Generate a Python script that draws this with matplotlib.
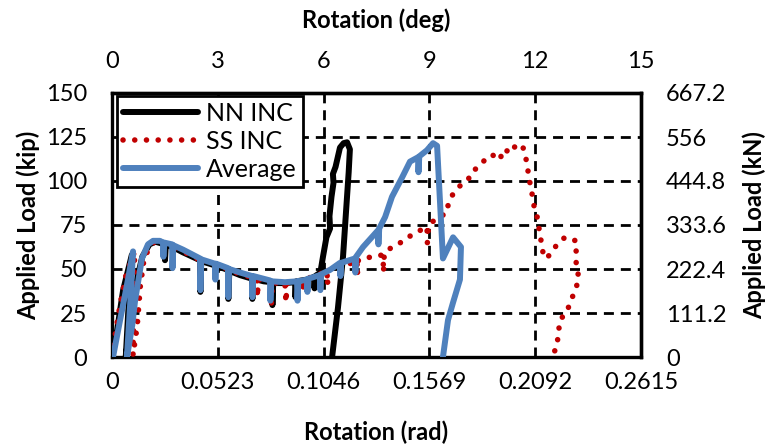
import numpy as np
import matplotlib
matplotlib.use("Agg")
import matplotlib.pyplot as plt

plt.rcParams['font.family'] = ['Lato', 'DejaVu Sans']

# rotation (rad) / applied load (kip) for the two connections and their average
NN_ROT = [0.0000, 0.0025, 0.0055, 0.0098, 0.0080, 0.0068, 0.0095, 0.0125, 0.0150, 0.0185,
          0.0215, 0.0260, 0.0262, 0.0266, 0.0300, 0.0350, 0.0435, 0.0437, 0.0441, 0.0510,
          0.0573, 0.0575, 0.0580, 0.0633, 0.0692, 0.0694, 0.0698, 0.0750, 0.0791, 0.0793,
          0.0797, 0.0855, 0.0905, 0.0907, 0.0911, 0.0964, 0.0999, 0.1001, 0.1005, 0.1030,
          0.1043, 0.1060, 0.1078, 0.1075, 0.1085, 0.1095, 0.1092, 0.1105, 0.1127, 0.1145,
          0.1162, 0.1176, 0.1170, 0.1160, 0.1142, 0.1117, 0.1088]
NN_LOAD = [0, 15, 38, 58, 25, 0, 22, 45, 57, 64,
           65.5, 64, 55, 63.5, 62.5, 59.5, 55, 37, 54.5, 52,
           49.5, 33, 49, 46.5, 44.5, 33, 44.5, 43, 42.5, 29.5,
           42, 42, 42.5, 34, 43, 44, 45.5, 39, 46, 48,
           57, 68, 73, 80, 91, 99, 104, 108, 119, 121.5,
           122, 118, 105, 88, 57, 28, 0]

SS_ROT = [0.0000, 0.0015, 0.0040, 0.0070, 0.0112, 0.0108, 0.0104, 0.0125, 0.0140, 0.0160,
          0.0205, 0.0250, 0.0300, 0.0350, 0.0435, 0.0437, 0.0441, 0.0510, 0.0570, 0.0633,
          0.0717, 0.0719, 0.0723, 0.0786, 0.0788, 0.0793, 0.0855, 0.0860, 0.0865, 0.0944,
          0.0946, 0.0950, 0.1013, 0.1063, 0.1065, 0.1070, 0.1176, 0.1211, 0.1213, 0.1218,
          0.1285, 0.1340, 0.1342, 0.1346, 0.1364, 0.1414, 0.1463, 0.1508, 0.1557, 0.1559,
          0.1565, 0.1597, 0.1656, 0.1661, 0.1676, 0.1710, 0.1735, 0.1780, 0.1790, 0.1834,
          0.1878, 0.1918, 0.1933, 0.1977, 0.1997, 0.2032, 0.2046, 0.2056, 0.2066, 0.2076,
          0.2086, 0.2101, 0.2111, 0.2121, 0.2131, 0.2140, 0.2165, 0.2200, 0.2239, 0.2294,
          0.2299, 0.2289, 0.2299, 0.2308, 0.2289, 0.2269, 0.2249, 0.2215, 0.2205, 0.2200,
          0.2175]
SS_LOAD = [0, 12, 30, 47, 60, 30, 1, 18, 40, 57,
           65, 64.5, 63, 60, 55, 40, 55, 52.5, 50, 47,
           44.5, 34, 44, 42.5, 30, 42, 42, 31, 42, 43.5,
           37, 44, 46.5, 49, 41, 49.5, 53, 55, 47, 55,
           57, 58, 48, 59, 61, 64, 68, 71, 74, 65,
           75, 78, 82, 86, 91, 96, 99, 103, 106, 111,
           115, 112, 118, 116, 121, 119, 113, 106, 99, 93,
           86, 80, 73, 66, 59, 56, 58, 64, 68, 66,
           63, 57, 51, 44, 38, 32, 26, 21, 12.5, 6,
           0.5]

AVG_ROT = [0.0005, 0.0040, 0.0074, 0.0104, 0.0095, 0.0074, 0.0100, 0.0114, 0.0148, 0.0178,
           0.0203, 0.0237, 0.0252, 0.0254, 0.0258, 0.0297, 0.0299, 0.0303, 0.0351, 0.0435,
           0.0437, 0.0441, 0.0509, 0.0511, 0.0515, 0.0573, 0.0575, 0.0579, 0.0633, 0.0692,
           0.0694, 0.0698, 0.0781, 0.0783, 0.0787, 0.0855, 0.0915, 0.0917, 0.0921, 0.0964,
           0.0966, 0.0970, 0.1028, 0.1030, 0.1034, 0.1078, 0.1127, 0.1129, 0.1133, 0.1201,
           0.1203, 0.1207, 0.1241, 0.1315, 0.1317, 0.1321, 0.1350, 0.1384, 0.1409, 0.1434,
           0.1473, 0.1513, 0.1515, 0.1519, 0.1557, 0.1587, 0.1607, 0.1636, 0.1686, 0.1725,
           0.1720, 0.1686, 0.1661, 0.1636]
AVG_LOAD = [0, 21, 41, 60, 40, 0, 18, 32, 56, 64,
            66, 66, 65, 57, 65, 64, 50.5, 63.5, 61, 56,
            38, 55.5, 53, 44, 53, 50.5, 34, 50, 48, 46,
            34, 46, 43.5, 32, 43, 42.5, 43, 32, 43, 44,
            37, 44.5, 46.5, 38, 47, 49.5, 53.5, 46, 53.5, 56,
            48, 57, 62.5, 72, 64, 73, 79.5, 91, 96.5, 102,
            111, 113.5, 105, 114, 117.5, 121.5, 120, 56, 68, 62.5,
            44, 31, 21, 0]

RAD_TICKS = [0, 0.0523, 0.1046, 0.1569, 0.2092, 0.2615]
RAD_LABELS = ['0', '0.0523', '0.1046', '0.1569', '0.2092', '0.2615']
DEG_TICKS = [0, 3, 6, 9, 12, 15]
KIP_TICKS = [0, 25, 50, 75, 100, 125, 150]
KN_TICKS = [0, 111.2, 222.4, 333.6, 444.8, 556, 667.2]
KN_LABELS = ['0', '111.2', '222.4', '333.6', '444.8', '556', '667.2']

FS = 17
W, H = 765, 447

fig = plt.figure(figsize=(W / 100, H / 100), dpi=100)
ax = fig.add_axes([112/W, 1 - 357/H, 529/W, 264/H])

ax.plot(NN_ROT, NN_LOAD, color='black', lw=4.3, solid_joinstyle='round',
        solid_capstyle='round', label='NN INC', zorder=3)
ax.plot(SS_ROT, SS_LOAD, color='#C00000', lw=4.0, linestyle=(0, (0.01, 2.1)),
        dash_capstyle='round', label='SS INC', zorder=4)
ax.plot(AVG_ROT, AVG_LOAD, color='#4F81BD', lw=4.3, solid_joinstyle='round',
        solid_capstyle='round', label='Average', zorder=5)

ax.set_xlim(0, 0.2615)
ax.set_ylim(0, 150)
ax.set_xticks(RAD_TICKS)
ax.set_xticklabels(RAD_LABELS)
ax.set_yticks(KIP_TICKS)
ax.tick_params(axis='both', length=0, labelsize=FS)
ax.tick_params(axis='x', pad=11)
ax.tick_params(axis='y', pad=18)
ax.grid(True, color='black', lw=2, linestyle=(0, (3.6, 2.5)))
for s in ax.spines.values():
    s.set_linewidth(2.4)

# top axis in degrees, right axis in kN
top = ax.secondary_xaxis('top', functions=(lambda r: r / 0.0523 * 3, lambda d: d / 3 * 0.0523))
top.set_xticks(DEG_TICKS)
top.tick_params(length=0, labelsize=FS, pad=15)
right = ax.secondary_yaxis('right', functions=(lambda k: k * 4.448, lambda n: n / 4.448))
right.set_yticks(KN_TICKS)
right.set_yticklabels(KN_LABELS)
right.tick_params(length=0, labelsize=FS, pad=18)
for a in (top, right):
    for s in a.spines.values():
        s.set_linewidth(2.4)

# axis titles placed in figure pixels
fig.text(376/W, 1 - 432/H, 'Rotation (rad)', fontsize=FS, fontweight='bold', ha='center', va='center')
fig.text(376/W, 1 - 20/H, 'Rotation (deg)', fontsize=FS, fontweight='bold', ha='center', va='center')
fig.text(28/W, 1 - 225/H, 'Applied Load (kip)', fontsize=FS, fontweight='bold', ha='center',
         va='center', rotation=90)
fig.text(754/W, 1 - 225/H, 'Applied Load (kN)', fontsize=FS, fontweight='bold', ha='center',
         va='center', rotation=90)

leg = ax.legend(loc='upper left', bbox_to_anchor=(5/529, 261/264), borderaxespad=0,
                fontsize=18, fancybox=False, edgecolor='black', framealpha=1,
                handlelength=3.0, handletextpad=0.3, labelspacing=0.2, borderpad=0.25)
leg.get_frame().set_linewidth(2)
leg.set_zorder(10)

fig.savefig('out.png', dpi=100)
